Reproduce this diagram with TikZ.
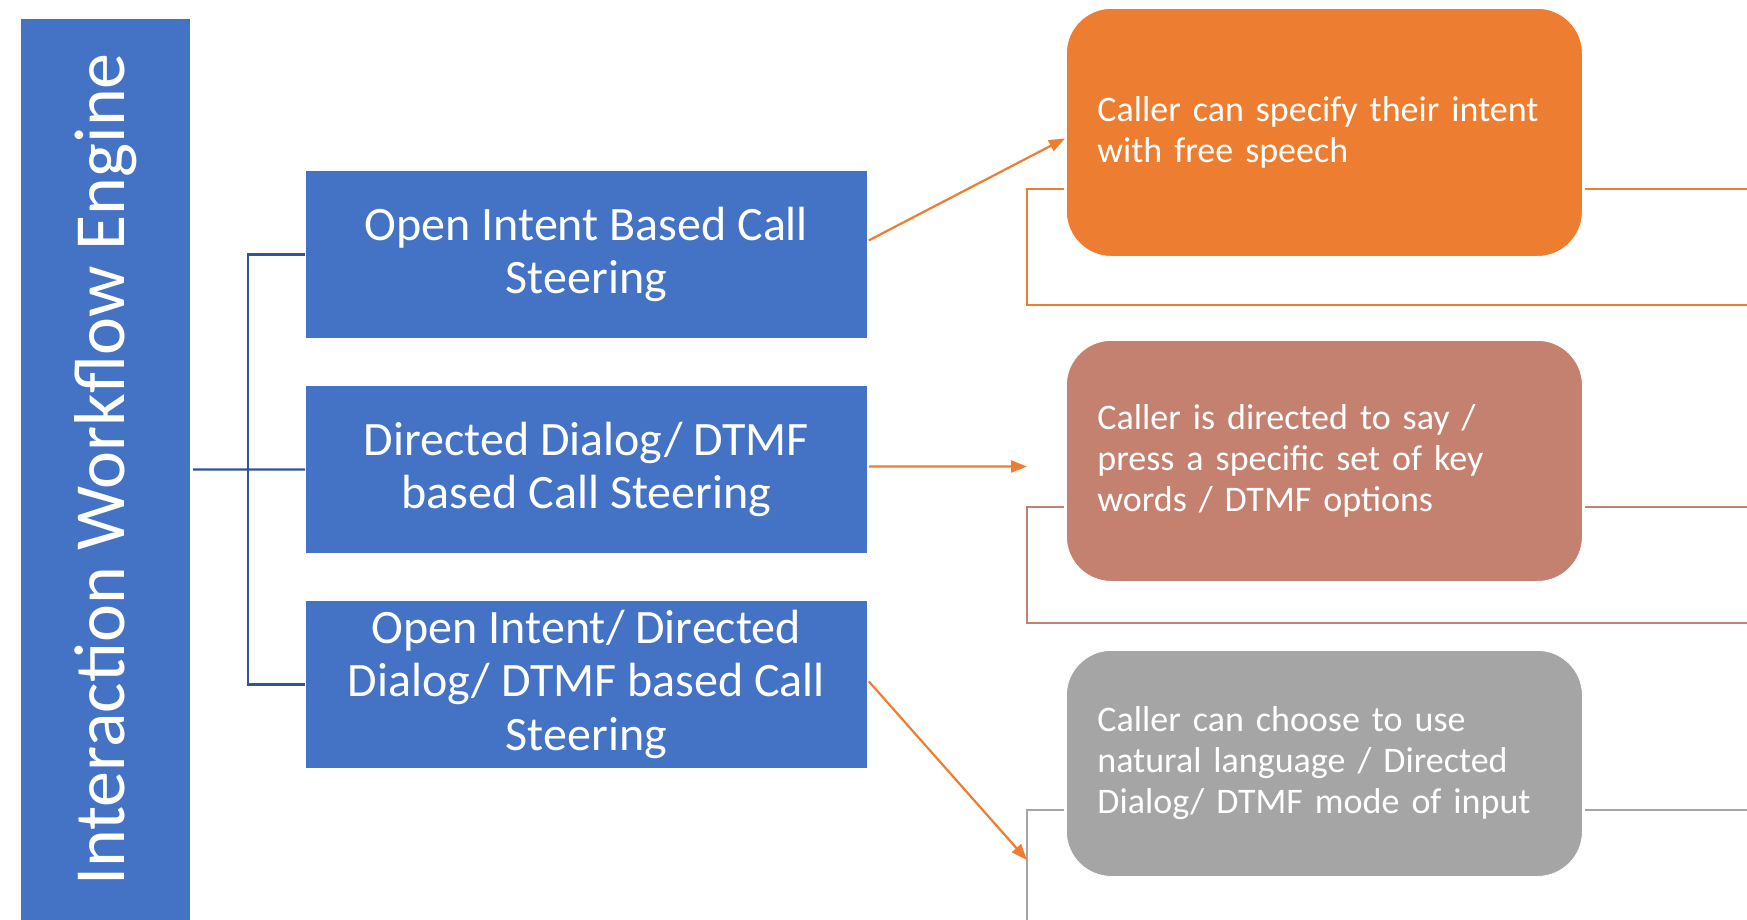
\documentclass[tikz,border=0pt]{standalone}
\usepackage{fontspec}
\setmainfont{Carlito}
\usetikzlibrary{arrows.meta,calc}
\definecolor{cblue}{HTML}{4472C4}
\definecolor{ctree}{HTML}{2F5597}
\definecolor{corange}{HTML}{ED7D31}
\definecolor{csalmon}{HTML}{C5816F}
\definecolor{cgray}{HTML}{A5A5A5}
\tikzset{
  bluebox/.style={rectangle, fill=cblue, draw=white, line width=0.8pt, text=white,
    minimum width=562pt, minimum height=168pt, align=center, inner sep=0pt,
    font=\fontsize{48}{53.5}\selectfont},
  rbox/.style={rectangle, rounded corners=45pt, text=white, draw=white, line width=0.8pt,
    minimum width=516pt, text width=454pt, inner xsep=31pt, inner ysep=0pt, align=left,
    font=\fontsize{36}{41}\selectfont},
  treeline/.style={draw=ctree, line width=2.2pt},
  conn/.style={line width=2.2pt},
  arr/.style={draw=corange, line width=2.2pt, -{Triangle[length=16pt,width=12pt]}},
}
\begin{document}
\begin{tikzpicture}[x=1pt,y=-1pt]
\useasboundingbox (0,0) rectangle (1747,920);
% title bar
\node[rotate=90, fill=cblue, text=white, minimum width=901pt, minimum height=169pt, inner sep=0pt,
  font=\fontsize{72}{80}\selectfont] (title) at (105.5,469.5) {Interaction Workflow Engine};
% blue boxes
\node[bluebox, anchor=north west] (b1) at (305,170) {Open Intent Based Call\\Steering};
\node[bluebox, anchor=north west] (b2) at (305,385) {Directed Dialog/ DTMF\\based Call Steering};
\node[bluebox, anchor=north west] (b3) at (305,600) {Open Intent/ Directed\\Dialog/ DTMF based Call\\Steering};
% tree connector
\coordinate (tj) at (248,469.5);
\draw[treeline] ($(title.south)+(3,0)$) -- (b2.west);
\draw[treeline] (b1.west) -| (tj) |- (b3.west);
% right boxes
\node[rbox, fill=corange, minimum height=248pt, anchor=north west] (rA) at (1066,8) {Caller can specify their intent\\with free speech};
\node[rbox, fill=csalmon, minimum height=241pt, anchor=north west] (rB) at (1066,340) {Caller is directed to say /\\press a specific set of key\\words / DTMF options};
\node[rbox, fill=cgray, minimum height=226pt, anchor=north west] (rC) at (1066,650) {Caller can choose to use\\natural language / Directed\\Dialog/ DTMF mode of input};
% brackets
\coordinate (kA) at (1027,189);
\coordinate (kA2) at (1027,305);
\coordinate (eA2) at (1760,305);
\coordinate (eA) at (1760,189);
\draw[conn, draw=corange] ($(rA.west |- kA)+(-2,0)$) -- (kA) -- (kA2) -- (eA2);
\draw[conn, draw=corange] ($(rA.east |- kA)+(2,0)$) -- (eA);
\coordinate (kB) at (1027,507);
\coordinate (kB2) at (1027,623);
\coordinate (eB2) at (1760,623);
\coordinate (eB) at (1760,507);
\draw[conn, draw=csalmon] ($(rB.west |- kB)+(-2,0)$) -- (kB) -- (kB2) -- (eB2);
\draw[conn, draw=csalmon] ($(rB.east |- kB)+(2,0)$) -- (eB);
\coordinate (kC) at (1027,810);
\coordinate (kC2) at (1027,930);
\coordinate (eC) at (1760,810);
\draw[conn, draw=cgray] ($(rC.west |- kC)+(-2,0)$) -- (kC) -- (kC2);
\draw[conn, draw=cgray] ($(rC.east |- kC)+(2,0)$) -- (eC);
% arrows
\coordinate (tB) at (1027,466.5);
\coordinate (tC) at (1027,860);
\draw[arr] ($(b1.east)+(1,-14)$) -- ($(rA.west)+(-1,6)$);
\draw[arr] ($(b2.east)+(1,-3)$) -- (tB);
\draw[arr] ($(b3.east)+(1,-3)$) -- (tC);
\end{tikzpicture}
\end{document}
